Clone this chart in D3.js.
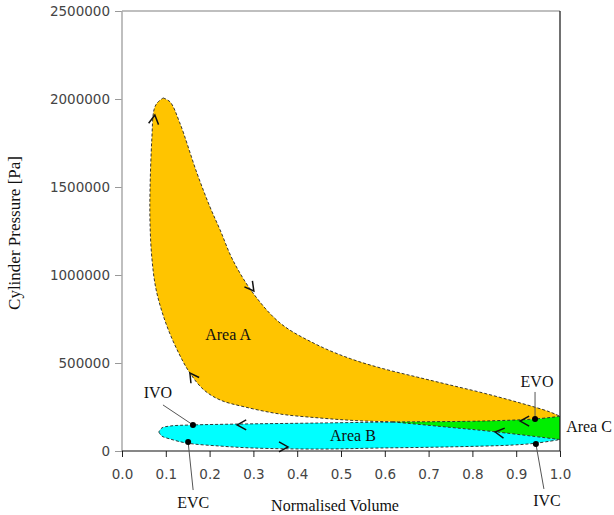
<!DOCTYPE html>
<html><head><meta charset="utf-8">
<script src="https://cdn.jsdelivr.net/npm/d3@7"></script>
<style>body{margin:0;background:#fff}svg{display:block}</style>
</head><body><svg id="c" width="614" height="515"></svg>
<script>
// ---------- data ----------
const volTicks = [0, 0.1, 0.2, 0.3, 0.4, 0.5, 0.6, 0.7, 0.8, 0.9, 1.0];
const presTicks = [0, 500000, 1000000, 1500000, 2000000, 2500000];

// expansion stroke: peak -> BDC
const expansionV = [0.094, 0.110, 0.132, 0.171, 0.201, 0.224, 0.253, 0.299, 0.361, 0.440, 0.521, 0.596, 0.674, 0.749, 0.824, 0.902, 0.977, 1.0];
const expansionP = [2006000, 1983000, 1864000, 1580000, 1386000, 1256000, 1085000, 898000, 727000, 610000, 525000, 468000, 420000, 375000, 330000, 278000, 222000, 197000];

// exhaust stroke: BDC -> TDC
const exhaustV = [1.0, 0.943, 0.817, 0.619, 0.452, 0.263, 0.162, 0.110, 0.091, 0.084];
const exhaustP = [197000, 182000, 170000, 165000, 159000, 153000, 148000, 142000, 131000, 108000];

// intake stroke: TDC -> BDC
const intakeV = [0.084, 0.091, 0.110, 0.148, 0.224, 0.299, 0.452, 0.589, 0.742, 0.893, 0.947, 1.0];
const intakeP = [108000, 85000, 68000, 45000, 28000, 17000, 11000, 17000, 23000, 34000, 45000, 65000];

// compression stroke: BDC -> peak
const compressionV = [1.0, 0.856, 0.742, 0.619, 0.532, 0.452, 0.361, 0.281, 0.224, 0.187, 0.155, 0.126, 0.100, 0.078, 0.068, 0.064, 0.064, 0.068, 0.073, 0.080, 0.094];
const compressionP = [65000, 108000, 136000, 165000, 173000, 187500, 210000, 250000, 290000, 347000, 443000, 574000, 727000, 915000, 1102000, 1295000, 1483000, 1767000, 1938000, 1977000, 2006000];

// crossing of exhaust and compression lines
const crossV = 0.619;

// direction arrows
const arrowV = [0.075, 0.155, 0.301, 0.909, 0.852, 0.263, 0.379];
const arrowP = [1909000, 443000, 909000, 170000, 108000, 148000, 23000];
const arrowDir = [-82, -125, 53, 180, 187, 180, 0];

// valve events
const eventNames = ["IVO", "EVC", "EVO", "IVC"];
const eventV = [0.162, 0.151, 0.943, 0.945];
const eventP = [148000, 51000, 182000, 40000];

// area labels
const areaNames = ["Area A", "Area B", "Area C"];
const areaV = [0.190, 0.475, 1.014];
const areaP = [631000, 57000, 108000];

// ---------- layout ----------
const W = 614, H = 515;
const m = {left: 122, right: 54, top: 11, bottom: 64};
const svg = d3.select("#c");
svg.append("rect").attr("width", W).attr("height", H).attr("fill", "#fff");

const x = d3.scaleLinear().domain([0, 1]).range([m.left, W - m.right]);
const y = d3.scaleLinear().domain([0, 2500000]).range([H - m.bottom, m.top]);

const pts = (V, P) => V.map((v, i) => [v, P[i]]);
const expansion = pts(expansionV, expansionP);
const exhaust = pts(exhaustV, exhaustP);
const intake = pts(intakeV, intakeP);
const compression = pts(compressionV, compressionP);
const exCross = exhaustV.indexOf(crossV);
const coCross = compressionV.indexOf(crossV);

const line = d3.line().x(d => x(d[0])).y(d => y(d[1])).curve(d3.curveCatmullRom.alpha(0.5));
const join = (...segs) => segs.map((s, i) => { const p = line(s); return i === 0 ? p : "L" + p.slice(1); }).join("") + "Z";

const exRight = exhaust.slice(0, exCross + 1);
const exLeft = exhaust.slice(exCross);
const coRight = compression.slice(0, coCross + 1);
const coLeft = compression.slice(coCross);

// fills
svg.append("path").attr("d", join(exLeft, intake, coRight)).attr("fill", "#00ffff");
svg.append("path").attr("d", join(expansion, exRight, coLeft)).attr("fill", "#ffc400");
svg.append("path").attr("d", join(exRight, coRight.slice().reverse())).attr("fill", "#00ee00");

// outlines
[expansion, exRight, exLeft, intake, coRight, coLeft].forEach(s => {
  svg.append("path").attr("d", line(s)).attr("fill", "none")
    .attr("stroke", "#222").attr("stroke-width", 0.9).attr("stroke-dasharray", "3,2");
});

// arrows
arrowV.forEach((v, i) => {
  svg.append("path").attr("d", "M-9,-5L0,0L-9,5")
    .attr("transform", `translate(${x(v)},${y(arrowP[i])}) rotate(${arrowDir[i]})`)
    .attr("fill", "none").attr("stroke", "#111").attr("stroke-width", 1.5);
});

// axes
const tickFont = "'DejaVu Sans', sans-serif";
const gy = svg.append("g").attr("transform", `translate(${m.left},0)`)
  .call(d3.axisLeft(y).tickValues(presTicks).tickSize(7).tickPadding(5).tickFormat(d3.format("d")));
gy.select(".domain").remove();
gy.selectAll("line").attr("stroke", "#999");
gy.selectAll("text").attr("font-family", tickFont).attr("font-size", 13.5).attr("fill", "#444");

const gx = svg.append("g").attr("transform", `translate(0,${H - m.bottom})`)
  .call(d3.axisBottom(x).tickValues(volTicks).tickSize(6).tickPadding(12).tickFormat(d3.format(".1f")));
gx.select(".domain").remove();
gx.selectAll("line").attr("stroke", "#222");
gx.selectAll("text").attr("font-family", tickFont).attr("font-size", 13.5).attr("fill", "#444");

// frame
svg.append("line").attr("x1", m.left).attr("x2", m.left).attr("y1", m.top).attr("y2", H - m.bottom).attr("stroke", "#aaa").attr("stroke-width", 1.5);
svg.append("line").attr("x1", m.left).attr("x2", W - m.right).attr("y1", m.top).attr("y2", m.top).attr("stroke", "#aaa").attr("stroke-width", 1.5);
svg.append("line").attr("x1", W - m.right).attr("x2", W - m.right).attr("y1", m.top).attr("y2", H - m.bottom).attr("stroke", "#111").attr("stroke-width", 1.2);
svg.append("line").attr("x1", m.left).attr("x2", W - m.right).attr("y1", H - m.bottom).attr("y2", H - m.bottom).attr("stroke", "#111").attr("stroke-width", 1.2);

// valve event markers
const serif = "'Liberation Serif', 'Times New Roman', serif";
const labelOff = [[-35, -27], [5, 66], [2, -32], [11, 62]];
const leadOff = [[-30, -20], [5, 48], [0, -27], [8, 45]];
eventNames.forEach((n, i) => {
  const cx = x(eventV[i]), cy = y(eventP[i]);
  svg.append("line").attr("x1", cx).attr("y1", cy).attr("x2", cx + leadOff[i][0]).attr("y2", cy + leadOff[i][1])
    .attr("stroke", "#555").attr("stroke-width", 1);
  svg.append("circle").attr("cx", cx).attr("cy", cy).attr("r", 3).attr("fill", "#000");
  svg.append("text").attr("x", cx + labelOff[i][0]).attr("y", cy + labelOff[i][1])
    .attr("text-anchor", "middle").attr("font-family", serif).attr("font-size", 16).attr("fill", "#111").text(n);
});

// area labels
areaNames.forEach((n, i) => {
  svg.append("text").attr("x", x(areaV[i])).attr("y", y(areaP[i]))
    .attr("font-family", serif).attr("font-size", 16).attr("fill", "#111").text(n);
});

// axis titles
svg.append("text").attr("x", 335).attr("y", 511).attr("text-anchor", "middle")
  .attr("font-family", serif).attr("font-size", 16).attr("fill", "#111").text("Normalised Volume");
svg.append("text").attr("transform", "translate(20,233) rotate(-90)").attr("text-anchor", "middle")
  .attr("font-family", serif).attr("font-size", 17).attr("fill", "#111").text("Cylinder Pressure [Pa]");
</script>
</body></html>
